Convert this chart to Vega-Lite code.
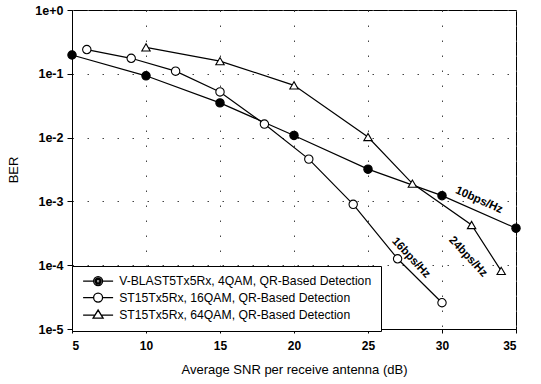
{
  "$schema": "https://vega.github.io/schema/vega-lite/v6.json",
  "width": 444,
  "height": 319,
  "autosize": "none",
  "padding": {"left": 72, "top": 10, "right": 25, "bottom": 55},
  "background": "white",
  "config": {
    "view": {"stroke": "black", "strokeWidth": 1},
    "font": "Liberation Sans"
  },
  "datasets": {
    "curves": [
      {"series": "V-BLAST5Tx5Rx, 4QAM, QR-Based Detection", "snr": 5, "ber": 0.197},
      {"series": "V-BLAST5Tx5Rx, 4QAM, QR-Based Detection", "snr": 10, "ber": 0.093},
      {"series": "V-BLAST5Tx5Rx, 4QAM, QR-Based Detection", "snr": 15, "ber": 0.035},
      {"series": "V-BLAST5Tx5Rx, 4QAM, QR-Based Detection", "snr": 20, "ber": 0.0108},
      {"series": "V-BLAST5Tx5Rx, 4QAM, QR-Based Detection", "snr": 25, "ber": 0.0032},
      {"series": "V-BLAST5Tx5Rx, 4QAM, QR-Based Detection", "snr": 30, "ber": 0.00123},
      {"series": "V-BLAST5Tx5Rx, 4QAM, QR-Based Detection", "snr": 35, "ber": 0.00038},
      {"series": "ST15Tx5Rx, 16QAM, QR-Based Detection", "snr": 6, "ber": 0.24},
      {"series": "ST15Tx5Rx, 16QAM, QR-Based Detection", "snr": 9, "ber": 0.175},
      {"series": "ST15Tx5Rx, 16QAM, QR-Based Detection", "snr": 12, "ber": 0.11},
      {"series": "ST15Tx5Rx, 16QAM, QR-Based Detection", "snr": 15, "ber": 0.052},
      {"series": "ST15Tx5Rx, 16QAM, QR-Based Detection", "snr": 18, "ber": 0.0163},
      {"series": "ST15Tx5Rx, 16QAM, QR-Based Detection", "snr": 21, "ber": 0.0046},
      {"series": "ST15Tx5Rx, 16QAM, QR-Based Detection", "snr": 24, "ber": 0.0009},
      {"series": "ST15Tx5Rx, 16QAM, QR-Based Detection", "snr": 27, "ber": 0.000126},
      {"series": "ST15Tx5Rx, 16QAM, QR-Based Detection", "snr": 30, "ber": 0.0000258},
      {"series": "ST15Tx5Rx, 64QAM, QR-Based Detection", "snr": 10, "ber": 0.26},
      {"series": "ST15Tx5Rx, 64QAM, QR-Based Detection", "snr": 15, "ber": 0.158},
      {"series": "ST15Tx5Rx, 64QAM, QR-Based Detection", "snr": 20, "ber": 0.066},
      {"series": "ST15Tx5Rx, 64QAM, QR-Based Detection", "snr": 25, "ber": 0.0102},
      {"series": "ST15Tx5Rx, 64QAM, QR-Based Detection", "snr": 28, "ber": 0.0019},
      {"series": "ST15Tx5Rx, 64QAM, QR-Based Detection", "snr": 32, "ber": 0.000427},
      {"series": "ST15Tx5Rx, 64QAM, QR-Based Detection", "snr": 34, "ber": 0.0000815}
    ],
    "notes": [
      {"label": "10bps/Hz", "snr": 32.5, "ber": 0.00104},
      {"label": "16bps/Hz", "snr": 27.9, "ber": 0.00013},
      {"label": "24bps/Hz", "snr": 31.75, "ber": 0.000135}
    ]
  },
  "encoding": {
    "x": {
      "field": "snr",
      "type": "quantitative",
      "scale": {"domain": [5, 35], "nice": false, "zero": false},
      "axis": {
        "title": "Average SNR per receive antenna (dB)",
        "values": [5, 10, 15, 20, 25, 30, 35],
        "grid": true,
        "gridColor": "#444",
        "gridDash": [1.5, 13.5],
        "gridWidth": 1,
        "domainColor": "black",
        "tickColor": "black",
        "tickSize": 4,
        "labelColor": "black",
        "labelFontSize": 12,
        "labelFontWeight": "bold",
        "labelPadding": 7,
        "titleColor": "black",
        "titleFontSize": 13,
        "titleFontWeight": "normal",
        "titlePadding": 12
      }
    },
    "y": {
      "field": "ber",
      "type": "quantitative",
      "scale": {"type": "log", "domain": [0.00001, 1], "nice": false},
      "axis": {
        "title": "BER",
        "values": [0.00001, 0.0001, 0.001, 0.01, 0.1, 1],
        "format": ".0e",
        "grid": true,
        "gridColor": "#444",
        "gridDash": [1.5, 13.5],
        "gridWidth": 1,
        "domainColor": "black",
        "tickColor": "black",
        "tickSize": 5,
        "labelColor": "black",
        "labelFontSize": 12.5,
        "labelFontWeight": "bold",
        "labelPadding": 4,
        "titleColor": "black",
        "titleFontSize": 13,
        "titleFontWeight": "normal",
        "titlePadding": 14
      }
    }
  },
  "layer": [
    {
      "data": {"name": "curves"},
      "mark": {"type": "line", "color": "black", "strokeWidth": 1.2},
      "encoding": {
        "detail": {"field": "series", "type": "nominal"}
      }
    },
    {
      "data": {"name": "curves"},
      "mark": {"type": "point", "filled": true, "stroke": "black", "strokeWidth": 1.1, "size": 70, "opacity": 1},
      "encoding": {
        "shape": {
          "field": "series",
          "type": "nominal",
          "scale": {
            "domain": ["V-BLAST5Tx5Rx, 4QAM, QR-Based Detection", "ST15Tx5Rx, 16QAM, QR-Based Detection", "ST15Tx5Rx, 64QAM, QR-Based Detection"],
            "range": ["circle", "circle", "triangle-up"]
          },
          "legend": null
        },
        "fill": {
          "field": "series",
          "type": "nominal",
          "scale": {
            "domain": ["V-BLAST5Tx5Rx, 4QAM, QR-Based Detection", "ST15Tx5Rx, 16QAM, QR-Based Detection", "ST15Tx5Rx, 64QAM, QR-Based Detection"],
            "range": ["black", "white", "white"]
          },
          "legend": null
        }
      }
    },
    {
      "data": {"name": "curves"},
      "mark": {"type": "point", "filled": false, "stroke": "black", "strokeWidth": 1.2, "size": 100, "opacity": 0},
      "encoding": {
        "shape": {
          "field": "series",
          "type": "nominal",
          "scale": {
            "domain": ["V-BLAST5Tx5Rx, 4QAM, QR-Based Detection", "ST15Tx5Rx, 16QAM, QR-Based Detection", "ST15Tx5Rx, 64QAM, QR-Based Detection"],
            "range": [
              "M -3 0 H -0.9 M -0.9 0 A 0.9 0.9 0 1 1 0.9 0 A 0.9 0.9 0 1 1 -0.9 0 Z M -0.6 0 A 0.6 0.6 0 1 1 0.6 0 A 0.6 0.6 0 1 1 -0.6 0 Z M -0.35 0 A 0.35 0.35 0 1 1 0.35 0 A 0.35 0.35 0 1 1 -0.35 0 Z M -0.1 0 H 0.1 M 0.9 0 H 3",
              "M -3 0 H -0.9 M -0.9 0 A 0.9 0.9 0 1 1 0.9 0 A 0.9 0.9 0 1 1 -0.9 0 Z M 0.9 0 H 3",
              "M -3 0 H -0.62 M -1 0.6 L 0 -1 L 1 0.6 Z M 0.62 0 H 3"
            ]
          },
          "legend": {
            "title": null,
            "orient": "none",
            "legendX": 0,
            "legendY": 256,
            "fillColor": "white",
            "strokeColor": "black",
            "padding": 9,
            "symbolSize": 100,
            "symbolOffset": 11,
            "symbolOpacity": 1,
            "symbolStrokeColor": "black",
            "symbolStrokeWidth": 1.3,
            "symbolFillColor": "transparent",
            "labelOffset": 15,
            "labelFontSize": 12.2,
            "labelFont": "Liberation Sans",
            "labelColor": "black",
            "labelLimit": 400,
            "rowPadding": 1.5
          }
        }
      }
    },
    {
      "data": {"name": "notes"},
      "transform": [{"filter": "datum.label === '10bps/Hz'"}],
      "mark": {"type": "text", "angle": 24, "fontSize": 11.5, "fontWeight": "bold", "color": "black"},
      "encoding": {"text": {"field": "label", "type": "nominal"}}
    },
    {
      "data": {"name": "notes"},
      "transform": [{"filter": "datum.label !== '10bps/Hz'"}],
      "mark": {"type": "text", "angle": 47, "fontSize": 11.5, "fontWeight": "bold", "color": "black"},
      "encoding": {"text": {"field": "label", "type": "nominal"}}
    }
  ],
  "resolve": {
    "scale": {"shape": "independent", "fill": "independent"},
    "legend": {"shape": "independent", "fill": "independent"}
  }
}
